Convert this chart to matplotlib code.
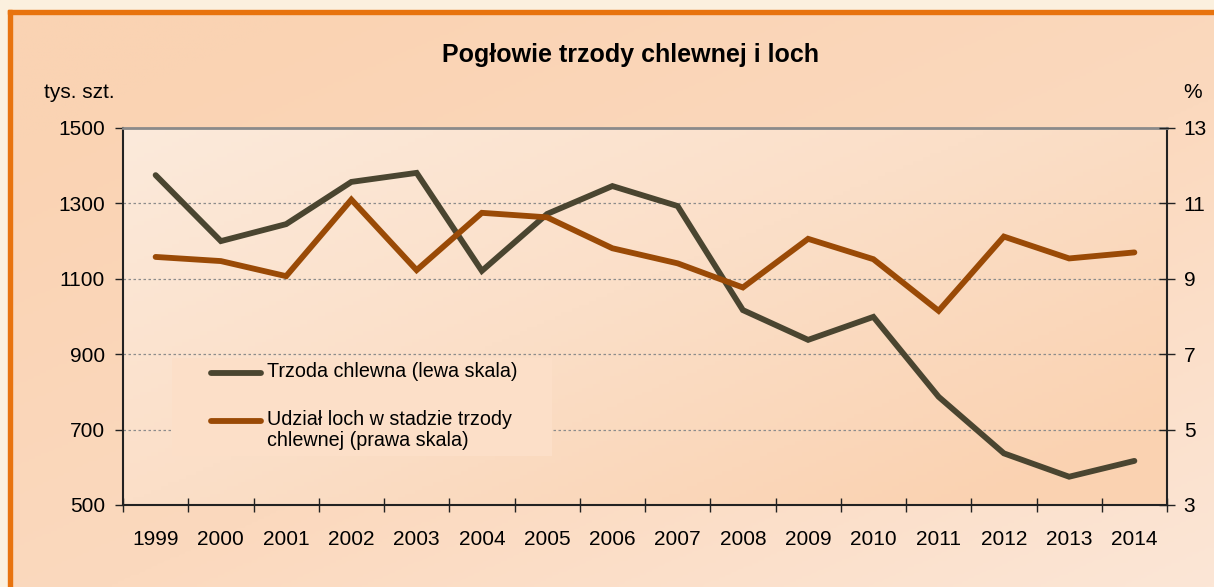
import numpy as np
import matplotlib
matplotlib.use("Agg")
import matplotlib.pyplot as plt
from matplotlib.lines import Line2D
from matplotlib.patches import Rectangle
from matplotlib.colors import LinearSegmentedColormap

plt.rcParams['font.family'] = ['Liberation Sans', 'DejaVu Sans']

years = ['1999', '2000', '2001', '2002', '2003', '2004', '2005', '2006',
         '2007', '2008', '2009', '2010', '2011', '2012', '2013', '2014']
trzoda = [1375, 1200, 1245, 1357, 1381, 1121, 1272, 1346,
          1293, 1017, 938, 999, 787, 637, 575, 617]
udzial = [9.58, 9.47, 9.07, 11.10, 9.23, 10.75, 10.63, 9.81,
          9.41, 8.77, 10.06, 9.52, 8.15, 10.12, 9.54, 9.70]

label_trzoda = 'Trzoda chlewna (lewa skala)'
label_udzial = 'Udział loch w stadzie trzody\nchlewnej (prawa skala)'
title = 'Pogłowie trzody chlewnej i loch'

C_TRZ = '#4A4530'
C_UDZ = '#9A4A06'
FS = 15

W, H = 1214, 587
fig = plt.figure(figsize=(W / 100, H / 100), dpi=100)

# ---- figure background ----
bg = fig.add_axes([0, 0, 1, 1], zorder=-10)
bg.set_axis_off()
yy, xx = np.mgrid[0:1:200j, 0:1:400j]
t = np.clip(0.55 * xx + 0.6 * yy - 0.15, 0, 1)
cmap_outer = LinearSegmentedColormap.from_list('o', ['#FAD3B3', '#FBD9BE', '#FCE6D6'])
bg.imshow(t, cmap=cmap_outer, extent=[0, 1, 0, 1], aspect='auto', origin='upper')
# cream margins
bg.add_patch(Rectangle((0, 1 - 10 / H), 1, 10 / H, color='#FBF0DE', transform=bg.transAxes))
bg.add_patch(Rectangle((0, 0), 8 / W, 1, color='#FBF0DE', transform=bg.transAxes))
# orange border
bg.add_patch(Rectangle((8 / W, 1 - 14 / H), 1 - 8 / W, 4 / H, color='#E8730E', transform=bg.transAxes))
bg.add_patch(Rectangle((8 / W, 0), 4 / W, 1 - 10 / H, color='#E8730E', transform=bg.transAxes))
bg.set_xlim(0, 1)
bg.set_ylim(0, 1)

# ---- main axes ----
left, right, top, bottom = 123, 1167, 128, 505
ax = fig.add_axes([left / W, 1 - bottom / H, (right - left) / W, (bottom - top) / H])
ax.set_facecolor('none')
x = np.arange(len(years))

# plot-area gradient
cmap_in = LinearSegmentedColormap.from_list('i', ['#FCEADB', '#FBDFC8', '#FAD2B1'])
yi, xi = np.mgrid[0:1:100j, 0:1:300j]
ti = np.clip(0.6 * xi + 0.5 * yi, 0, 1)
ax.imshow(ti, cmap=cmap_in, extent=[-0.5, len(years) - 0.5, 500, 1500],
          aspect='auto', origin='upper', zorder=0)

ax.set_xlim(-0.5, len(years) - 0.5)
ax.set_ylim(500, 1500)
ax.set_yticks([500, 700, 900, 1100, 1300, 1500])
ax.set_xticks(np.arange(-0.5, len(years), 1.0))
ax.set_xticklabels([])
ax.set_xticks(x, minor=True)
ax.set_xticklabels(years, minor=True)
ax.tick_params(axis='x', which='minor', length=0, pad=18, labelsize=FS, colors='black')
ax.tick_params(axis='x', which='major', direction='inout', length=10, width=1, color='#222222')
ax.tick_params(axis='y', direction='out', length=6, width=1, labelsize=FS, pad=7, color='#222222')

for v in [700, 900, 1100, 1300]:
    ax.axhline(v, color='#8C8C8C', lw=0.9, ls=(0, (2, 2)), zorder=1)

ax.spines['top'].set_color('#8A8A8A')
ax.spines['top'].set_linewidth(2)
for s in ['left', 'bottom', 'right']:
    ax.spines[s].set_color('#222222')
    ax.spines[s].set_linewidth(1.5)

ax.plot(x, trzoda, color=C_TRZ, lw=4.2, solid_capstyle='round', solid_joinstyle='miter', zorder=4)

ax2 = ax.twinx()
ax2.set_ylim(3, 13)
ax2.set_yticks([3, 5, 7, 9, 11, 13])
ax2.tick_params(axis='y', direction='inout', length=12, width=1, labelsize=FS, pad=6, color='#222222')
for s in ax2.spines.values():
    s.set_visible(False)
ax2.plot(x, udzial, color=C_UDZ, lw=4.2, solid_capstyle='round', solid_joinstyle='miter', zorder=4)

# axis unit labels and title
fig.text(44 / W, 1 - 92 / H, 'tys. szt.', fontsize=FS, va='center', ha='left')
fig.text(1193 / W, 1 - 92 / H, '%', fontsize=FS, va='center', ha='center')
fig.text(631 / W, 1 - 55 / H, title, fontsize=18, fontweight='bold', ha='center', va='center')

# legend (manual, Excel-like)
lx0, lx1, ly0, ly1 = 172, 552, 358, 456
fig.add_artist(Rectangle((lx0 / W, 1 - ly1 / H), (lx1 - lx0) / W, (ly1 - ly0) / H,
                         transform=fig.transFigure, facecolor='#FCDFC8', edgecolor='none', zorder=5))
for yv, col, lab in [(373, C_TRZ, label_trzoda), (421, C_UDZ, label_udzial)]:
    fig.add_artist(Line2D([211 / W, 261 / W], [1 - yv / H, 1 - yv / H], transform=fig.transFigure,
                          color=col, lw=4.2, solid_capstyle='round', zorder=6))
    fig.text(267 / W, 1 - (yv - 11) / H, lab, fontsize=14.2, va='top', ha='left',
             linespacing=1.1, zorder=7)

fig.savefig('out.png', dpi=100)
